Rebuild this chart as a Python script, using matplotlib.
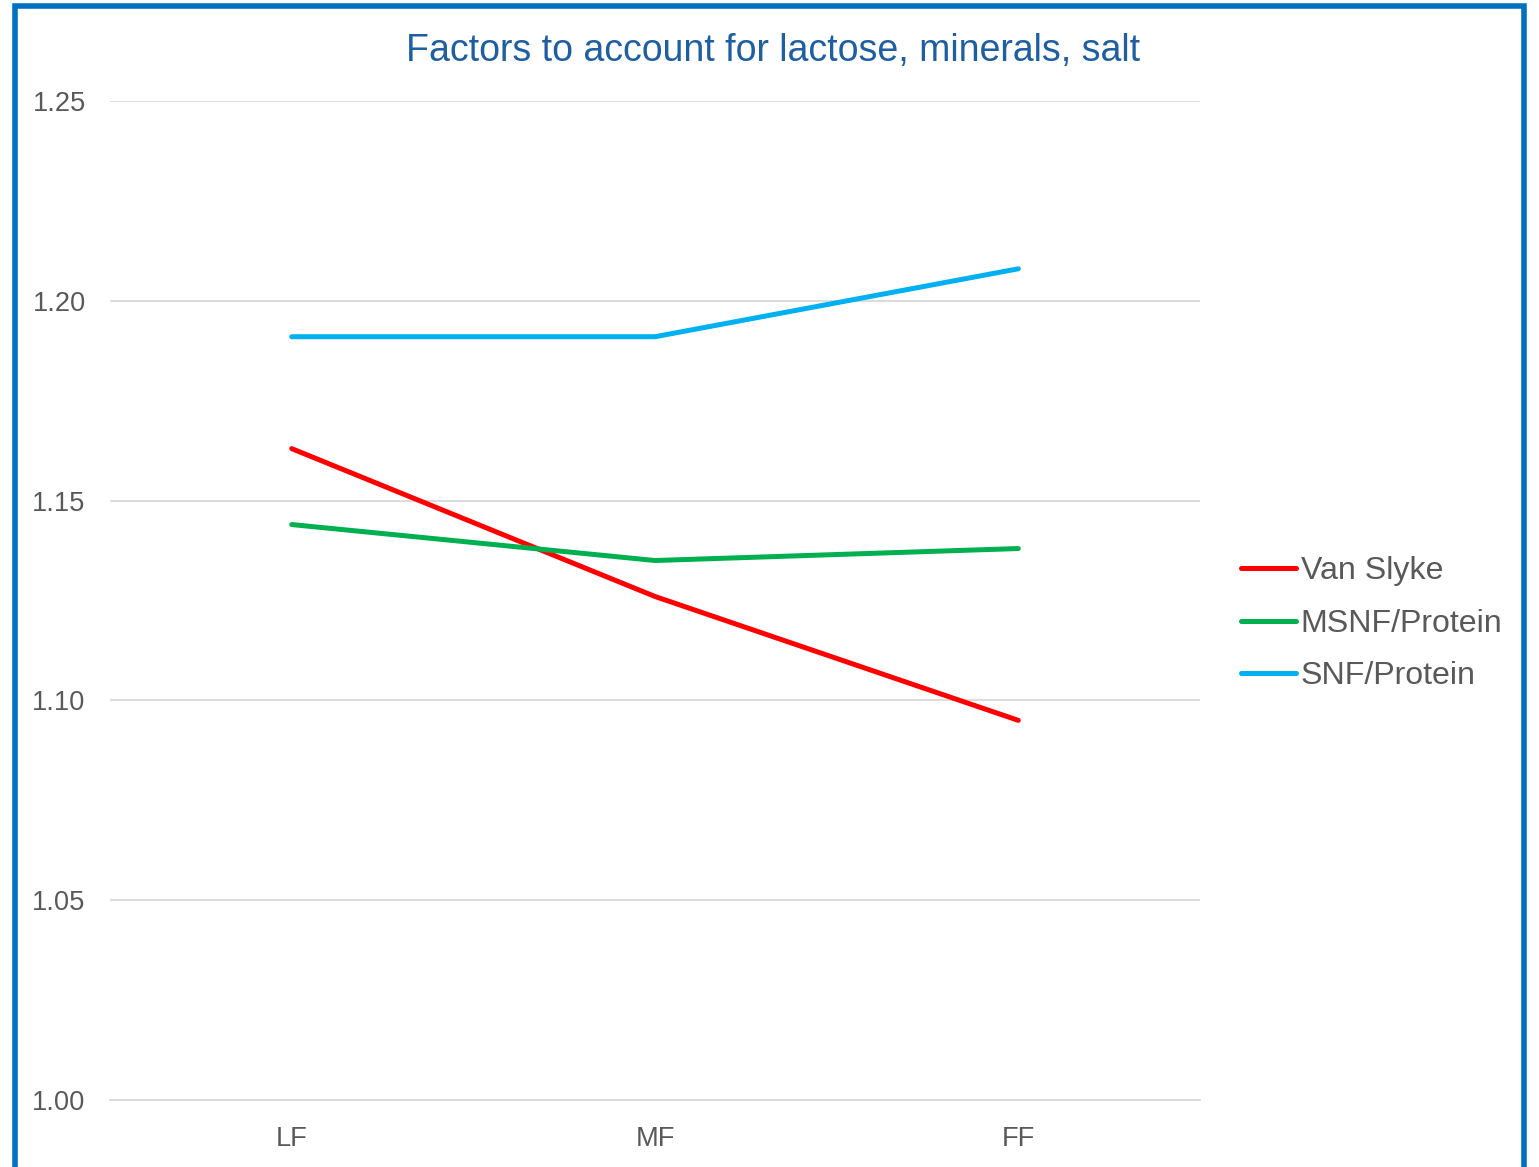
import matplotlib.pyplot as plt
from matplotlib.patches import Rectangle

plt.rcParams["font.family"] = ["Liberation Sans", "DejaVu Sans"]

categories = ["LF", "MF", "FF"]
van_slyke = [1.163, 1.126, 1.095]
msnf_protein = [1.144, 1.135, 1.138]
snf_protein = [1.191, 1.191, 1.208]
y_ticks = [1.00, 1.05, 1.10, 1.15, 1.20, 1.25]

fig = plt.figure(figsize=(15.39, 11.67), dpi=100)
ax = fig.add_axes([0.0715, 0.0574, 0.7082, 0.8561])

x = range(len(categories))
lw = 3.6
ax.plot(x, van_slyke, color="#FF0000", linewidth=lw, label="Van Slyke", solid_capstyle="round")
ax.plot(x, msnf_protein, color="#00B050", linewidth=lw, label="MSNF/Protein", solid_capstyle="round")
ax.plot(x, snf_protein, color="#00B0F0", linewidth=lw, label="SNF/Protein", solid_capstyle="round")

ax.set_xlim(-0.5, 2.5)
ax.set_ylim(1.00, 1.25)
ax.set_yticks(y_ticks)
ax.set_yticklabels([f"{v:.2f}" for v in y_ticks])
ax.set_xticks(list(x))
ax.set_xticklabels(categories)
ax.yaxis.grid(True, color="#D9D9D9", linewidth=1.3)
ax.set_axisbelow(True)
for s in ax.spines.values():
    s.set_visible(False)
ax.spines["bottom"].set_visible(True)
ax.spines["bottom"].set_color("#D9D9D9")
ax.spines["bottom"].set_linewidth(1.3)
ax.tick_params(axis="both", length=0, labelsize=19.6, colors="#595959")
ax.tick_params(axis="y", pad=17.5)
ax.tick_params(axis="x", pad=18.5)

fig.text(0.502, 0.956, "Factors to account for lactose, minerals, salt",
         ha="center", va="center", fontsize=27, color="#1F5FA0")

leg = ax.legend(loc="center left", bbox_to_anchor=(1.0115, 0.4765), frameon=False,
                fontsize=23.1, handlelength=1.7, handletextpad=0.15, labelspacing=0.7,
                labelcolor="#595959")

# outer chart border
fig.patches.append(Rectangle((0.0098, -0.01), 0.9805, 1.0045, transform=fig.transFigure,
                             fill=False, edgecolor="#0070C0", linewidth=4))

fig.savefig("out.png", dpi=100)
